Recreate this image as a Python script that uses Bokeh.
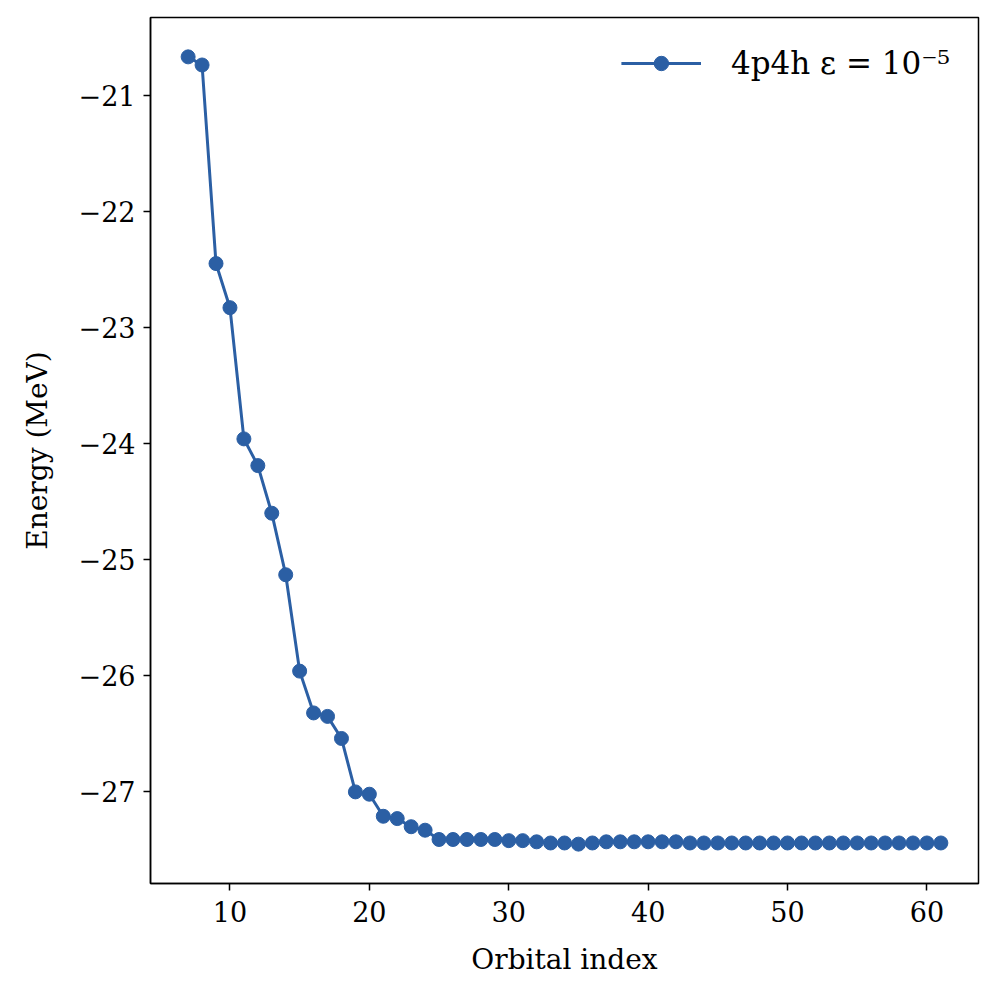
from bokeh.plotting import figure
from bokeh.models import FixedTicker, CustomJSTickFormatter, Range1d, Legend, LegendItem
from bokeh.embed import file_html
from bokeh.resources import INLINE

orbital_index = list(range(7, 62))
energy = [
    -20.67, -20.74, -22.45, -22.83, -23.96, -24.19, -24.60, -25.13, -25.96, -26.32,
    -26.35, -26.54, -27.00, -27.02, -27.21, -27.23, -27.30, -27.33, -27.41, -27.41,
    -27.41, -27.41, -27.41, -27.42, -27.42, -27.43, -27.44, -27.44, -27.45, -27.44,
    -27.43, -27.43, -27.43, -27.43, -27.43, -27.43, -27.44, -27.44, -27.44, -27.44,
    -27.44, -27.44, -27.44, -27.44, -27.44, -27.44, -27.44, -27.44, -27.44, -27.44,
    -27.44, -27.44, -27.44, -27.44, -27.44,
]
x_ticks = [10, 20, 30, 40, 50, 60]
y_ticks = [-21, -22, -23, -24, -25, -26, -27]
series_label = "4p4h \u03b5 = 10\u207b\u2075"

COLOR = "#2b5fa4"
FONT = "DejaVu Serif"

xmin, xmax = min(orbital_index), max(orbital_index)
ymin, ymax = min(energy), max(energy)
xpad = 0.05 * (xmax - xmin)
ypad = 0.05 * (ymax - ymin)

p = figure(width=988, height=988, output_backend="svg", toolbar_location=None,
           x_range=Range1d(xmin - xpad, xmax + xpad),
           y_range=Range1d(ymin - ypad, ymax + ypad),
           min_border_left=150, min_border_right=10, min_border_top=17, min_border_bottom=105)
p.grid.visible = False
p.outline_line_color = "black"
p.outline_line_width = 1.5
p.background_fill_color = "white"
p.border_fill_color = "white"

r_line = p.line(orbital_index, energy, line_color=COLOR, line_width=3)
r_pts = p.scatter(orbital_index, energy, size=14, fill_color=COLOR, line_color=COLOR)

fmt = CustomJSTickFormatter(code="return String(tick).replace('-', '\u2212');")
for ax, ticks in ((p.xaxis[0], x_ticks), (p.yaxis[0], y_ticks)):
    ax.ticker = FixedTicker(ticks=ticks)
    ax.formatter = fmt
    ax.minor_tick_line_color = None
    ax.major_tick_in = 0
    ax.major_tick_out = 7
    ax.major_tick_line_width = 1.5
    ax.axis_line_width = 1.5
    ax.axis_line_color = "black"
    ax.major_tick_line_color = "black"
    ax.major_label_text_font = FONT
    ax.major_label_text_font_size = "27px"
    ax.major_label_text_color = "black"
    ax.axis_label_text_font = FONT
    ax.axis_label_text_font_size = "28px"
    ax.axis_label_text_font_style = "normal"
    ax.axis_label_text_color = "black"

p.xaxis.axis_label = "Orbital index"
p.yaxis.axis_label = "Energy (MeV)"
p.xaxis.major_label_standoff = 10
p.yaxis.major_label_standoff = 8
p.xaxis.axis_label_standoff = 18
p.yaxis.axis_label_standoff = 22

legend = Legend(items=[LegendItem(label=series_label, renderers=[r_line, r_pts])],
                location="top_right", border_line_color=None, background_fill_alpha=0,
                label_text_font=FONT, label_text_font_size="31px", label_text_color="black",
                glyph_width=80, glyph_height=36, label_standoff=30,
                margin=28, padding=8)
p.add_layout(legend)

open("out.html", "w").write(file_html(p, INLINE))
